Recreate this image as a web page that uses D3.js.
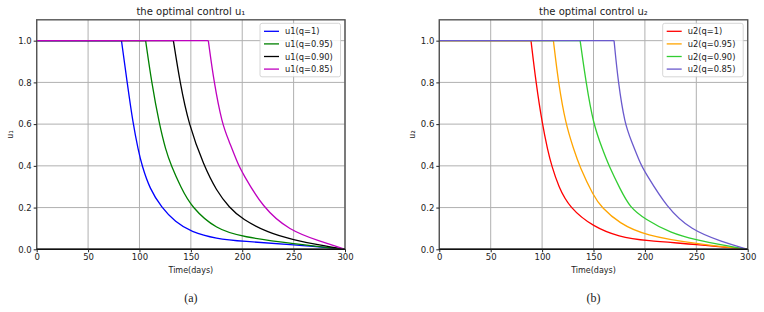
<!DOCTYPE html>
<html lang="en">
<head>
<meta charset="UTF-8">
<title>optimal control u1 / u2</title>
<script src="https://cdnjs.cloudflare.com/ajax/libs/d3/7.8.5/d3.min.js"></script>
<style>
    body { margin: 0; background: #fff; }
    svg text { font-family: "DejaVu Sans", sans-serif; fill: #222; }
    .cap { font-family: "Liberation Serif", "DejaVu Serif", serif; }
</style>
</head>
<body>
<svg id="chart" width="764" height="312"></svg>
<script>
// x ticks and y ticks
const xTicks = [0, 50, 100, 150, 200, 250, 300];
const yTicks = [0, 0.2, 0.4, 0.6, 0.8, 1.0];

// panel (a): u1 - points as [day, value]
const u1Labels = ["u1(q=1)", "u1(q=0.95)", "u1(q=0.90)", "u1(q=0.85)"];
const u1Colors = ["#0000ff", "#008000", "#000000", "#bf00bf"];
const u1q100 = [[82.5,1],[88,0.8],[93.8,0.6],[98.8,0.476],[102.5,0.4],[110,0.29],[121.5,0.2],[135,0.13],[150,0.084],[175,0.05],[200,0.038],[250,0.023],[300,0]];
const u1q095 = [[106,1],[111.8,0.8],[119.3,0.6],[125.5,0.476],[131,0.4],[140,0.3],[150.8,0.2],[175,0.095],[200,0.06],[250,0.026],[300,0]];
const u1q090 = [[133,1],[139.4,0.8],[147.8,0.6],[162.7,0.4],[175,0.28],[187.4,0.2],[200,0.144],[225,0.08],[250,0.045],[275,0.02],[300,0]];
const u1q085 = [[167,1],[172.5,0.8],[180.5,0.6],[186.7,0.524],[196.5,0.4],[200,0.369],[219.8,0.2],[246,0.09],[275,0.04],[300,0]];

// panel (b): u2
const u2Labels = ["u2(q=1)", "u2(q=0.95)", "u2(q=0.90)", "u2(q=0.85)"];
const u2Colors = ["#ff0000", "#ffa500", "#32cd32", "#6a5acd"];
const u2q100 = [[89.2,1],[94,0.8],[100.2,0.6],[105.4,0.476],[109.3,0.4],[116,0.3],[126.5,0.2],[150,0.107],[175,0.06],[200,0.041],[250,0.024],[300,0]];
const u2q095 = [[111,1],[115.8,0.8],[122.9,0.6],[131,0.476],[136.2,0.4],[150,0.255],[158,0.2],[175,0.125],[200,0.066],[250,0.026],[300,0]];
const u2q090 = [[137,1],[142.7,0.8],[149.8,0.6],[159,0.476],[165,0.4],[175.8,0.29],[185.5,0.2],[200,0.145],[225,0.078],[250,0.045],[275,0.02],[300,0]];
const u2q085 = [[170,1],[174,0.8],[180.5,0.6],[186.5,0.524],[196.5,0.4],[200,0.372],[221.2,0.2],[245,0.092],[275,0.036],[300,0]];

const svg = d3.select("#chart");

function drawPanel(opt) {
    const x = d3.scaleLinear().domain([0, 300]).range([opt.left, opt.right]);
    const y = d3.scaleLinear().domain([0, 1.1]).range([249.3, 19.8]);
    const g = svg.append("g");

    // grid
    g.selectAll(".gx").data(xTicks).enter().append("line")
        .attr("x1", d => x(d)).attr("x2", d => x(d))
        .attr("y1", y(0)).attr("y2", y(1.1))
        .attr("stroke", "#b0b0b0").attr("stroke-width", 1);
    g.selectAll(".gy").data(yTicks).enter().append("line")
        .attr("x1", x(0)).attr("x2", x(300))
        .attr("y1", d => y(d)).attr("y2", d => y(d))
        .attr("stroke", "#b0b0b0").attr("stroke-width", 1);

    // curves: flat part at 1 then the decay (basis spline smooths reading noise)
    const line = d3.line().x(d => x(d[0])).y(d => y(d[1])).curve(d3.curveBasis);
    opt.series.forEach((s, i) => {
        g.append("path")
            .attr("d", d3.line()([[x(0), y(1)], [x(s[0][0]), y(1)]]))
            .attr("fill", "none").attr("stroke", opt.colors[i]).attr("stroke-width", 1.3);
        g.append("path").datum(s)
            .attr("d", line)
            .attr("fill", "none").attr("stroke", opt.colors[i]).attr("stroke-width", 1.3);
    });

    // frame
    g.append("rect")
        .attr("x", x(0)).attr("y", y(1.1))
        .attr("width", x(300) - x(0)).attr("height", y(0) - y(1.1))
        .attr("fill", "none").attr("stroke", "#555").attr("stroke-width", 1.4);
    g.append("line")
        .attr("x1", x(0)).attr("x2", x(300)).attr("y1", y(0)).attr("y2", y(0))
        .attr("stroke", "#111").attr("stroke-width", 1.4);

    // axes
    const xa = g.append("g").attr("transform", `translate(0,${y(0)})`)
        .call(d3.axisBottom(x).tickValues(xTicks).tickSize(3).tickPadding(2).tickFormat(d3.format("d")));
    const ya = g.append("g").attr("transform", `translate(${x(0)},0)`)
        .call(d3.axisLeft(y).tickValues(yTicks).tickSize(3).tickPadding(2).tickFormat(d3.format(".1f")));
    [xa, ya].forEach(a => {
        a.select(".domain").remove();
        a.selectAll("text").attr("font-size", 8.5).attr("fill", "#222")
            .attr("font-family", "DejaVu Sans, sans-serif");
        a.selectAll("line").attr("stroke", "#222");
    });

    const cx = (x(0) + x(300)) / 2;
    g.append("text").attr("x", cx).attr("y", 15).attr("text-anchor", "middle")
        .attr("font-size", 10).text(opt.title);
    g.append("text").attr("x", cx).attr("y", 273).attr("text-anchor", "middle")
        .attr("font-size", 8).text("Time(days)");
    g.append("text")
        .attr("transform", `translate(${x(0) - 24},${y(0.55)}) rotate(-90)`)
        .attr("text-anchor", "middle").attr("font-size", 8).text(opt.ylabel);
    g.append("text").attr("class", "cap").attr("x", cx).attr("y", 302)
        .attr("text-anchor", "middle").attr("font-size", 12).text(opt.cap);

    // legend
    const lx = opt.legX, ly = 23.3;
    g.append("rect").attr("x", lx).attr("y", ly).attr("width", 80.5).attr("height", 53.5)
        .attr("rx", 2).attr("fill", "#fff").attr("fill-opacity", 0.85)
        .attr("stroke", "#ccc").attr("stroke-width", 0.8);
    opt.labels.forEach((lab, i) => {
        const yy = ly + 8 + i * 12.6;
        g.append("line").attr("x1", lx + 4).attr("x2", lx + 19)
            .attr("y1", yy).attr("y2", yy)
            .attr("stroke", opt.colors[i]).attr("stroke-width", 1.3);
        g.append("text").attr("x", lx + 25).attr("y", yy + 3)
            .attr("font-size", 8.3).text(lab);
    });
}

drawPanel({
    left: 36.7, right: 345, series: [u1q100, u1q095, u1q090, u1q085],
    colors: u1Colors, labels: u1Labels, legX: 260,
    title: "the optimal control u\u2081", ylabel: "u\u2081", cap: "(a)"
});
drawPanel({
    left: 439.3, right: 747.7, series: [u2q100, u2q095, u2q090, u2q085],
    colors: u2Colors, labels: u2Labels, legX: 662.7,
    title: "the optimal control u\u2082", ylabel: "u\u2082", cap: "(b)"
});
</script>
</body>
</html>
